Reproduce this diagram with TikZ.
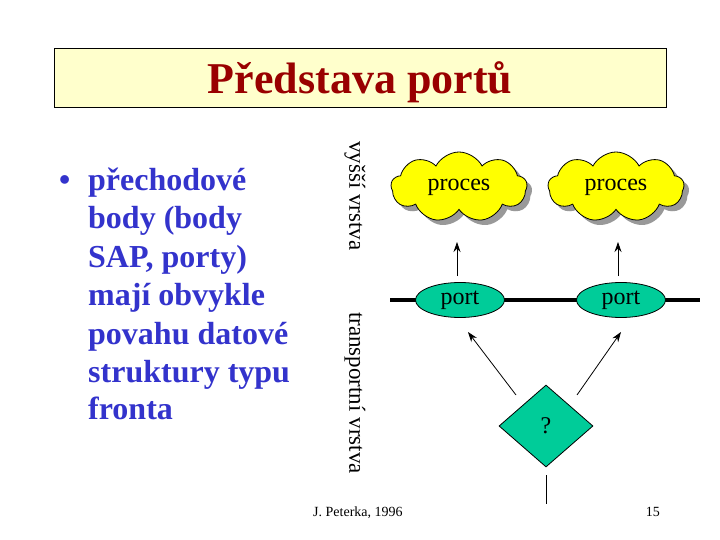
\documentclass[tikz,border=0pt]{standalone}
\usepackage{fontspec}
\setmainfont{Liberation Serif}
\usetikzlibrary{shapes.geometric,shapes.symbols,shadows,arrows.meta}
\definecolor{titlered}{HTML}{990000}
\definecolor{titlebg}{HTML}{FFFFCC}
\definecolor{bulletblue}{HTML}{3333CC}
\definecolor{sea}{HTML}{00CC99}
\definecolor{cloudyellow}{HTML}{FFFF00}
\definecolor{shadowgray}{HTML}{999999}
\begin{document}
\begin{tikzpicture}[x=1pt,y=-1pt,
  bline/.style={anchor=base west,inner sep=0pt,text=bulletblue,font=\fontsize{32}{38}\selectfont\bfseries},
  layer/.style={rotate=-90,inner sep=0pt,font=\fontsize{23}{27}\selectfont},
  procbox/.style={cloud,cloud puffs=9,cloud puff arc=125,aspect=2,draw=black,line width=0.8pt,fill=cloudyellow,
    minimum width=136pt,minimum height=70pt,inner sep=0pt,font=\fontsize{24}{28}\selectfont,
    drop shadow={shadow xshift=5pt,shadow yshift=-5pt,fill=shadowgray,opacity=1}},
  portbox/.style={ellipse,draw=black,line width=0.8pt,fill=sea,minimum width=89pt,minimum height=35pt,inner sep=0pt,
    font=\fontsize{24}{28}\selectfont},
  qbox/.style={diamond,draw=black,line width=0.8pt,fill=sea,aspect=1.15,minimum width=94pt,minimum height=82pt,inner sep=0pt,
    font=\fontsize{24}{28}\selectfont},
  conn/.style={line width=0.8pt,-{Stealth[length=10pt,width=7pt]}},
  plain/.style={line width=0.8pt},
  foot/.style={inner sep=0pt,font=\fontsize{14}{16}\selectfont}]
\useasboundingbox[fill=white] (0,0) rectangle (720,540);
% title
\node[draw=black,line width=1pt,fill=titlebg,minimum width=612pt,minimum height=59pt,inner sep=0pt] (titlebox) at (360,78.5) {};
\node[text=titlered,font=\fontsize{44}{50}\selectfont\bfseries,anchor=base] (title) at (360,94) {Představa portů};
% bullet text
\node[bline] (bul) at (59,191) {•};
\node[bline] (l1) at (88,191) {přechodové};
\node[bline] (l2) at (88,229) {body (body};
\node[bline] (l3) at (88,267) {SAP, porty)};
\node[bline] (l4) at (88,305) {mají obvykle};
\node[bline] (l5) at (88,344) {povahu datové};
\node[bline] (l6) at (88,382) {struktury typu};
\node[bline] (l7) at (88,419) {fronta};
% layer labels
\node[layer] (upper) at (355,196) {vyšší vrstva};
\node[layer] (lower) at (355,393) {transportní vrstva};
% horizontal line
\coordinate (hl1) at (390,300);
\coordinate (hl2) at (700,300);
\draw[line width=4.3pt] (hl1) -- (hl2);
% clouds
\node[procbox] (p1) at (459,187) {proces};
\node[procbox] (p2) at (616,187) {proces};
% ports
\node[portbox] (port1) at (460,300) {port};
\node[portbox] (port2) at (621,300) {port};
% diamond
\node[qbox] (q) at (546,426) {?};
% connectors
\coordinate (a1s) at (457,276);
\coordinate (a1e) at (457,242);
\coordinate (a2s) at (618,276);
\coordinate (a2e) at (618,242);
\draw[conn] (a1s) -- (a1e);
\draw[conn] (a2s) -- (a2e);
\coordinate (b1s) at (516,395);
\coordinate (b1e) at (468,332);
\coordinate (b2s) at (577,395);
\coordinate (b2e) at (621,332);
\draw[conn] (b1s) -- (b1e);
\draw[conn] (b2s) -- (b2e);
\coordinate (c1) at (546,475);
\coordinate (c2) at (546,504);
\draw[plain] (c1) -- (c2);
% footer
\node[foot,anchor=base west] (author) at (313,516) {J. Peterka, 1996};
\node[foot,anchor=base east] (page) at (660,516) {15};
\end{tikzpicture}
\end{document}
